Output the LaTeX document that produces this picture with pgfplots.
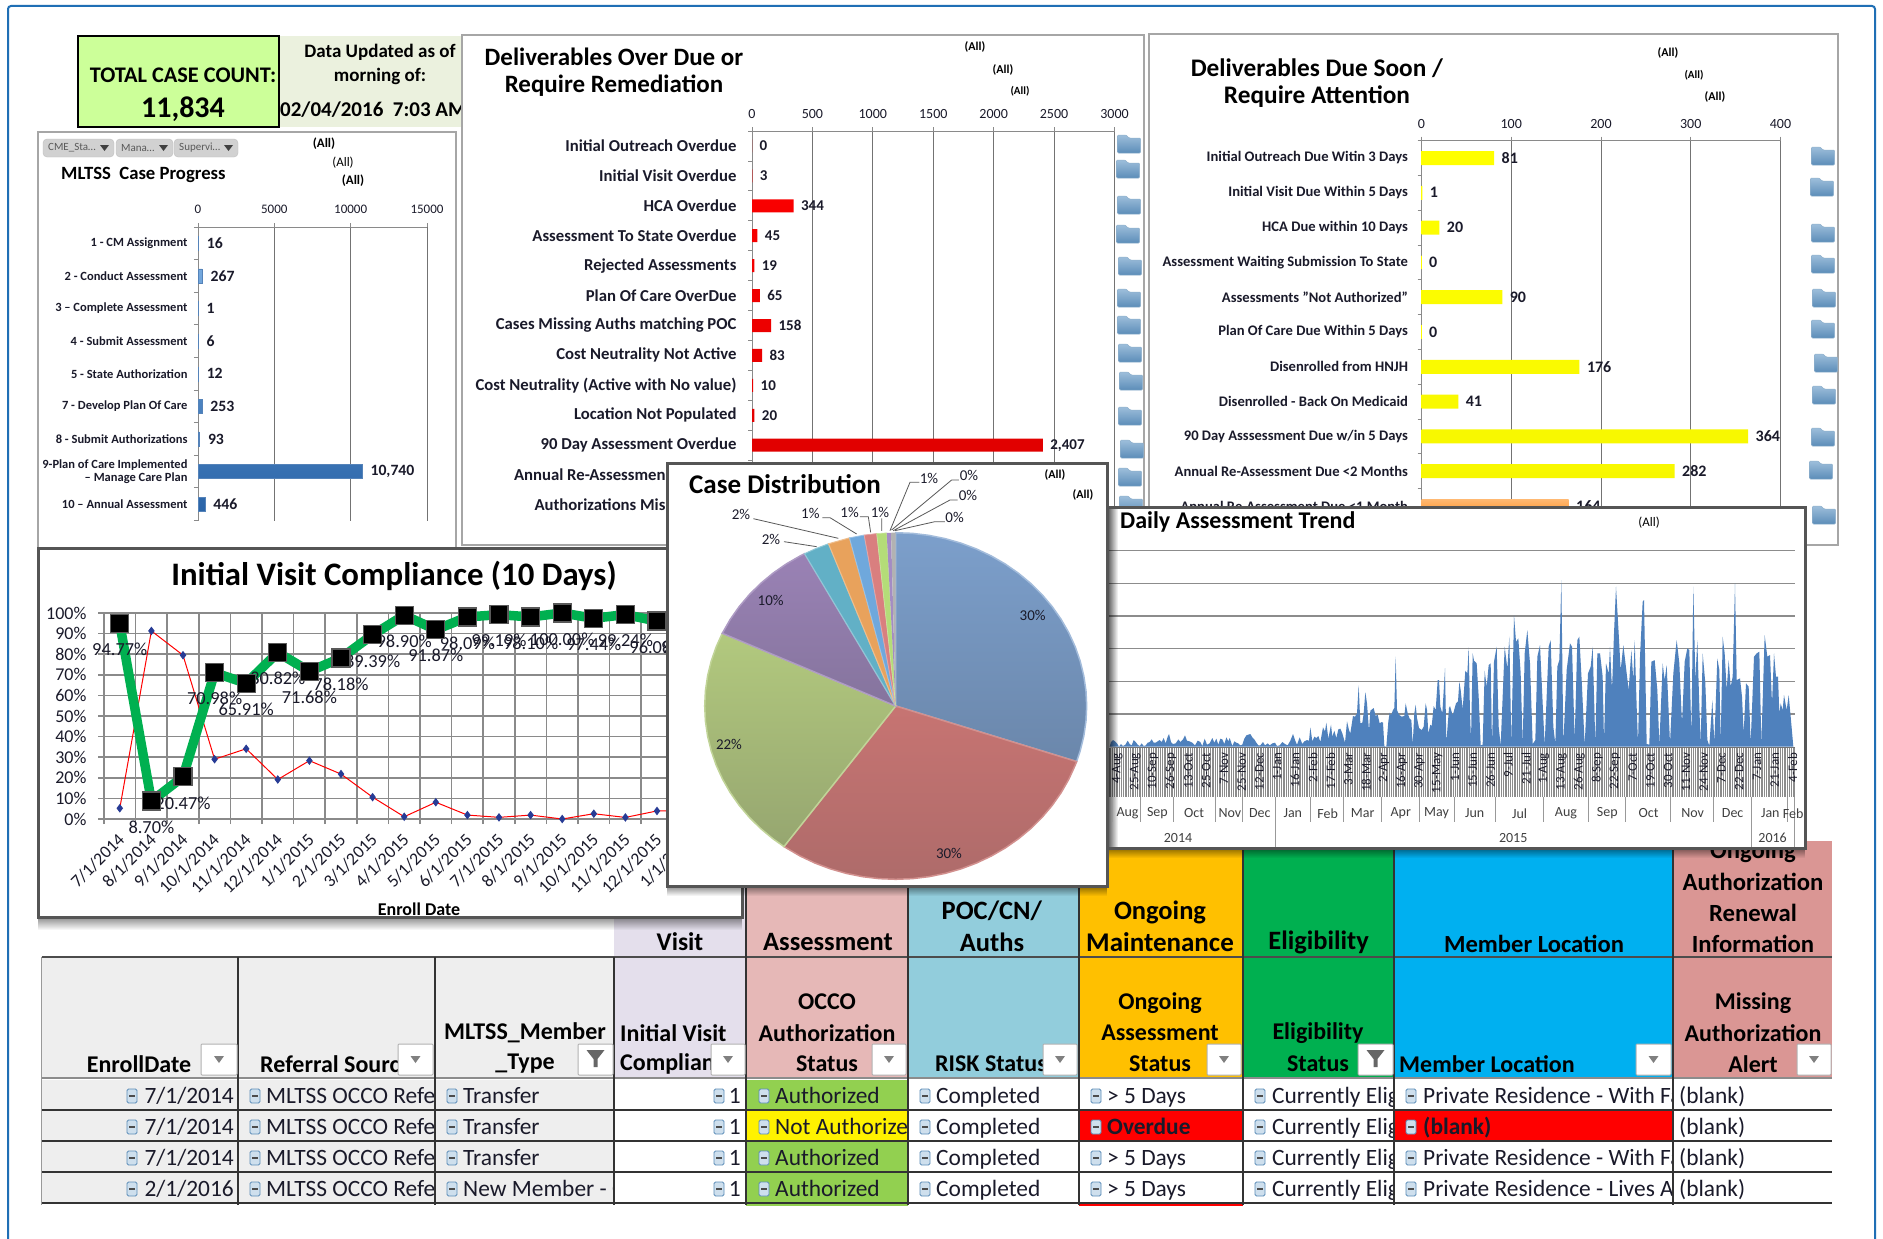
\documentclass[border=0pt]{standalone}
\usepackage{fontspec}
\setmainfont{Carlito}
\usepackage{pgfplots}
\usepackage{pgfplotstable}
\usetikzlibrary{fadings}
\pgfplotsset{compat=1.18}
\definecolor{frameblue}{HTML}{1F6FB5}
\definecolor{panel}{HTML}{A6A6A6}
\definecolor{darkp}{HTML}{555555}
\definecolor{ink}{HTML}{1A1A2A}
\definecolor{gridc}{HTML}{8A8A8A}
\definecolor{gcol}{HTML}{00B050}
\definecolor{cpurp}{HTML}{E4DFEC}
\definecolor{cpink}{HTML}{E6B8B7}
\definecolor{cteal}{HTML}{92CDDC}
\definecolor{corng}{HTML}{FFC000}
\definecolor{cblue}{HTML}{00B0F0}
\definecolor{cpk2}{HTML}{DA9694}
\definecolor{cgray}{HTML}{EEEEEE}
\definecolor{cgrn}{HTML}{92D050}
\definecolor{areac}{HTML}{4F81BD}
\definecolor{HTMLa}{HTML}{9DBEDB}
\definecolor{HTMLb}{HTML}{5C8DB8}
\definecolor{HTMLc}{HTML}{8FB0CC}
\definecolor{barA}{HTML}{7FB2E5}
\definecolor{barB}{HTML}{2A64A8}
\newcommand\fs[1]{\fontsize{#1}{#1}\selectfont}
\newcommand\T[5][]{\node[inner sep=0pt,#1] at (#2,#3) {\fs{#4}#5};}
\newcommand\folder[2]{\begin{scope}[shift={(#1,#2)}]
 \path[top color=HTMLa,bottom color=HTMLb,draw=HTMLc,line width=.5pt,rounded corners=1pt] (-11.5,9)--(-11.5,-9)--(-3,-9)--(0,-6)--(11.5,-6)--(11.5,9)--cycle;
 \end{scope}}
\newcommand\mn[2]{\begin{scope}[shift={(#1,#2)}]
 \draw[fill=HTMLa!50!white,draw=HTMLb,line width=.8pt,rounded corners=1.5pt] (-5,-7) rectangle (5,7);
 \draw[line width=1.2pt,black!70] (-3,0)--(3,0);\end{scope}}
\newcommand\tcell[4]{\begin{scope}\clip (#1,#3-15) rectangle (#2,#3+15);
 \node[anchor=base west,inner sep=0pt] at (#1,#3+7.5) {\fs{23.4}\color{ink}#4};\end{scope}}
\newcommand\trow[9]{%
 \fill[cgray] (41.5,#1-16) rectangle (614,#1+14);
 \fill[#4] (746,#1-16) rectangle (908,#1+14);
 \fill[#6] (1079,#1-16) rectangle (1243,#1+14);
 \fill[#8] (1394,#1-16) rectangle (1673,#1+14);
 \mn{132}{#1}\node[anchor=base east,inner sep=0pt] at (234,#1+7.5) {\fs{23.4}\color{ink}#2};
 \mn{255}{#1}\tcell{266}{435}{#1}{MLTSS OCCO Referral}
 \mn{452}{#1}\tcell{463}{613}{#1}{#3}
 \mn{719}{#1}\node[anchor=base east,inner sep=0pt] at (741,#1+7.5) {\fs{23.4}\color{ink}1};
 \mn{764}{#1}\tcell{775}{908}{#1}{#5}
 \mn{925}{#1}\tcell{936}{1078}{#1}{Completed}
 \mn{1096}{#1}\tcell{1107}{1243}{#1}{#7}
 \mn{1260}{#1}\tcell{1272}{1393}{#1}{Currently Eligible}
 \mn{1411}{#1}\tcell{1423}{1672}{#1}{#9}
 \tcell{1679}{1832}{#1}{(blank)}}
\newcommand\drop[2]{\draw[fill=white,draw=black!30,line width=1pt,rounded corners=1pt] (#1,1044) rectangle (#2,1075);
 \fill[black!50] ({(#1+#2)/2-5},1056)--({(#1+#2)/2+5},1056)--({(#1+#2)/2},1063)--cycle;}
\newcommand\dropf[2]{\draw[fill=white,draw=black!30,line width=1pt,rounded corners=1pt] (#1,1044) rectangle (#2,1075);
 \fill[black!60] ({(#1+#2)/2-9},1050)--({(#1+#2)/2+9},1050)--({(#1+#2)/2+2},1059)--({(#1+#2)/2+2},1067)--({(#1+#2)/2-2},1067)--({(#1+#2)/2-2},1059)--cycle;}
\newcommand\btn[3]{\draw[fill=black!18,draw=black!25,rounded corners=4pt] (#1,139) rectangle (#2,157);
 \node[inner sep=0pt,anchor=west] at (#1+5,148) {\fs{11}\color{black!65}#3};
 \fill[black!75] (#2-14,145)--(#2-5,145)--(#2-9.5,151)--cycle;}
\pgfplotsset{
 barpanel/.style={scale only axis,anchor=north west,
  /pgf/number format/.cd,1000 sep={,},assume math mode=true,/pgfplots/.cd,
  scaled x ticks=false,
  xbar,axis x line*=top,axis y line*=left,axis line style={-,draw=gridc,line width=1pt},
  xticklabel pos=upper,xmajorgrids,major grid style={draw=black!55,line width=1pt},
  tick style={draw=gridc,line width=.8pt},major tick length=4pt,minor tick length=4pt,tick align=outside,
  major y tick style={draw=none},
  yticklabel style={align=right,text=ink},
  xticklabel style={text=ink},
  clip=false,
  nodes near coords,
  every node near coord/.append style={anchor=west,text=ink},
 }}
\pgfplotstableread{
idx good late
0 94.77 5.23
1 8.70 91.30
2 20.47 79.53
3 70.98 29.02
4 65.91 34.09
5 80.82 19.18
6 71.68 28.32
7 78.18 21.82
8 89.39 10.61
9 98.90 1.10
10 91.87 8.13
11 98.09 1.91
12 99.19 0.81
13 98.10 1.90
14 100.00 0.00
15 97.44 2.56
16 99.24 0.76
17 96.08 3.92
18 96.00 4.00
}\compl
\pgfplotstableread{
x h
8 0
12 14
18 20
24 16
30 10
36 0
42 8
48 2
55 6
62 18
68 8
74 4
80 20
86 14
92 6
98 2
104 10
110 2
116 4
122 12
128 14
134 22
140 12
146 12
152 16
158 20
164 14
170 26
176 10
182 30
186 38
192 14
198 8
206 10
214 22
220 14
228 22
234 34
240 18
248 16
256 12
264 4
272 18
280 14
286 2
293 24
300 6
308 10
316 26
322 12
328 24
334 6
340 24
346 22
352 8
358 28
364 16
368 26
376 2
382 16
388 12
394 10
400 4
406 6
412 24
418 34
424 36
430 38
436 28
442 22
448 12
454 4
460 4
468 14
474 4
482 10
488 4
496 10
504 12
510 2
518 4
526 14
534 8
542 4
550 18
558 38
564 20
570 6
578 28
586 8
592 16
600 20
606 18
610 58
616 16
622 30
628 26
634 32
640 14
648 58
654 46
658 72
664 24
672 66
676 30
682 48
688 26
694 52
700 54
706 40
714 12
720 76
726 50
730 40
738 92
744 90
750 100
755 184
760 70
766 72
770 100
775 164
780 130
786 48
790 108
795 112
800 116
806 92
812 96
818 70
824 74
828 72
832 2
838 0
844 76
848 102
852 94
858 110
862 116
866 270
870 110
876 96
884 90
892 92
896 130
902 100
908 84
913 80
917 6
922 100
926 126
930 86
936 56
944 50
950 60
956 130
960 110
964 40
970 66
974 62
980 122
986 110
992 200
996 200
1000 120
1006 100
1014 236
1018 12
1026 116
1029 122
1037 94
1047 130
1053 136
1057 195
1061 170
1067 112
1075 228
1081 220
1085 298
1089 100
1092 20
1097 280
1101 258
1109 250
1115 150
1121 4
1127 6
1133 228
1139 180
1145 245
1151 250
1155 4
1161 255
1169 300
1175 60
1181 4
1189 200
1193 300
1201 235
1207 330
1213 8
1221 395
1227 315
1234 325
1241 220
1247 6
1253 280
1261 350
1269 250
1277 8
1285 20
1291 270
1299 305
1307 130
1313 4
1325 300
1331 320
1339 60
1345 8
1351 240
1357 260
1363 500
1369 10
1379 230
1389 310
1395 300
1403 20
1411 320
1417 330
1425 180
1433 4
1443 220
1451 240
1457 300
1465 8
1471 280
1479 280
1487 210
1491 14
1497 250
1505 220
1509 300
1515 170
1521 340
1527 480
1535 340
1541 230
1549 305
1559 220
1565 170
1573 290
1579 200
1583 320
1589 120
1593 8
1599 270
1607 435
1611 440
1619 8
1627 6
1633 255
1643 260
1651 170
1657 6
1667 250
1673 200
1679 245
1689 10
1699 220
1709 320
1717 250
1725 70
1733 255
1741 295
1747 290
1753 30
1759 480
1765 200
1771 320
1777 120
1781 8
1787 280
1795 190
1801 20
1807 2
1816 140
1822 12
1831 265
1837 230
1841 8
1847 330
1853 280
1859 170
1865 260
1871 180
1877 210
1884 490
1889 200
1899 205
1905 150
1910 40
1917 190
1925 180
1931 10
1941 270
1949 280
1957 285
1963 8
1973 335
1981 270
1989 275
1995 130
2001 280
2007 210
2013 210
2017 100
2021 130
2027 110
2031 155
2039 110
2045 155
2051 90
2059 0
}\trend
\begin{document}
\begin{tikzpicture}
\begin{scope}[x=1pt,y=-1pt]
\useasboundingbox (0,0) rectangle (1883,1239);
\fill[white] (0,0) rectangle (1883,1239);
\draw[frameblue,line width=2pt,rounded corners=3pt] (8,1239)--(8,6)--(1875,6)--(1875,1239);
%%% TABLE
\fill[cpurp] (614,848) rectangle (746,1078);
\fill[cpink] (746,848) rectangle (908,1078);
\fill[cteal] (908,848) rectangle (1079,1078);
\fill[corng] (1079,848) rectangle (1243,1078);
\fill[gcol] (1243,848) rectangle (1394,1078);
\fill[cblue] (1394,848) rectangle (1673,1078);
\fill[cpk2] (1673,841) rectangle (1832,1078);
\fill[cgray] (41.5,957) rectangle (614,1078);
\trow{1096}{7/1/2014}{Transfer}{cgrn}{Authorized}{white}{> 5 Days}{white}{Private Residence - With Family}
\trow{1127}{7/1/2014}{Transfer}{yellow}{Not Authorized}{red}{\textbf{Overdue}}{red}{\textbf{(blank)}}
\trow{1158}{7/1/2014}{Transfer}{cgrn}{Authorized}{white}{> 5 Days}{white}{Private Residence - With Family}
\trow{1189}{2/1/2016}{New Member - Other}{cgrn}{Authorized}{white}{> 5 Days}{white}{Private Residence - Lives Alone}
\fill[cgrn] (746,1204) rectangle (908,1206);\fill[red] (1079,1204) rectangle (1243,1206);
\draw[black!70,line width=2pt] (41.5,957)--(1832,957);
\draw[black!45,line width=2pt] (41.5,1078)--(1832,1078);
\foreach \yy in {1110,1141,1172,1203} \draw[black!80,line width=2pt] (41.5,\yy)--(1832,\yy);
\foreach \xx in {238,435,614} \draw[black!80,line width=1.5pt] (\xx,957)--(\xx,1205);
\foreach \xx in {746,908,1079,1243,1394,1673} \draw[black!80,line width=1.5pt] (\xx,848)--(\xx,1205);
\draw[black!40,line width=1pt] (41.5,957)--(41.5,1205);
% group headings
\T{680}{942}{25.5}{\textbf{Visit}}
\T{828}{942}{26.5}{\textbf{Assessment}}
\T{992}{911}{26.5}{\textbf{POC/CN/}}
\T{992}{942}{26.5}{\textbf{Auths}}
\T{1160}{912}{26.5}{\textbf{Ongoing}}
\T{1160}{942}{27}{\textbf{Maintenance}}
\T{1318.6}{942}{26.5}{\textbf{Eligibility}}
\T{1534}{944}{24.6}{\textbf{Member Location}}
\T{1753}{852}{24.7}{\textbf{Ongoing}}
\T{1753}{882}{24.7}{\textbf{Authorization}}
\T{1753}{913}{24.7}{\textbf{Renewal}}
\T{1753}{944}{24.7}{\textbf{Information}}
% column headings
\T{139}{1064}{24}{\textbf{EnrollDate}}
\begin{scope}\clip (255,1050) rectangle (399,1080);\T[anchor=west]{260}{1064}{24}{\textbf{Referral Source}}\end{scope}
\T{525}{1033}{24}{\textbf{MLTSS\_Member}}
\T{525}{1064}{24}{\textbf{\_Type}}
\T[anchor=west]{620}{1033}{24}{\textbf{Initial Visit}}
\begin{scope}\clip (615,1050) rectangle (711,1080);\T[anchor=west]{620}{1064}{24}{\textbf{Compliance}}\end{scope}
\T{827}{1002}{24}{\textbf{OCCO}}
\T{827}{1033}{24}{\textbf{Authorization}}
\T{827}{1064}{24}{\textbf{Status}}
\begin{scope}\clip (925,1050) rectangle (1043,1080);\T[anchor=west]{935}{1064}{24}{\textbf{RISK Status}}\end{scope}
\T{1160}{1003}{24}{\textbf{Ongoing}}
\T{1160}{1033}{24}{\textbf{Assessment}}
\T{1160}{1064}{24}{\textbf{Status}}
\T{1318}{1033}{24}{\textbf{Eligibility}}
\T{1318}{1064}{24}{\textbf{Status}}
\T[anchor=west]{1399}{1064}{24}{\textbf{Member Location}}
\T{1753}{1003}{24}{\textbf{Missing}}
\T{1753}{1033}{24}{\textbf{Authorization}}
\T{1753}{1064}{24}{\textbf{Alert}}
\drop{201}{237}\drop{398}{433}\dropf{578}{613}\drop{711}{745}\drop{872}{906}\drop{1043}{1077}\drop{1207}{1241}\dropf{1358}{1393}\drop{1636}{1671}\drop{1797}{1831}
%%% TOP BOXES
\definecolor{dbox}{HTML}{EBF1DE}\definecolor{tbox}{HTML}{CCFF99}
\fill[dbox] (279,36) rectangle (462,127);
\draw[black,line width=2pt,fill=tbox] (78,36) rectangle (279,127);
\T{183}{75}{22.3}{\textbf{TOTAL CASE COUNT:}}
\T{183}{109}{30}{\textbf{11,834}}
\T{380}{52}{19}{\textbf{Data Updated as of}}
\T{380}{76}{19}{\textbf{morning of:}}
\begin{scope}\clip (279,90) rectangle (462,127);\T[anchor=west]{280}{110}{21}{\textbf{02/04/2016\ \ 7:03 AM}}\end{scope}
%%% PANEL FRAMES
\draw[panel,line width=1.5pt,fill=white] (38,132) rectangle (456,548);
\draw[panel,line width=1.5pt,fill=white] (462,35) rectangle (1144,545);
\draw[panel,line width=1.5pt,fill=white] (1149,34) rectangle (1838,545);
% MLTSS furniture
\btn{43}{114}{CME\_Sta\ldots}
\btn{116}{173}{Mana\ldots}
\btn{174}{238}{Supervi\ldots}
\T{324}{144}{13}{\textbf{(All)}}
\T{343}{163}{13}{(All)}
\T{353}{181}{13}{\textbf{(All)}}
\T[anchor=west]{61}{175}{18.7}{\textbf{MLTSS\ \ Case Progress}}
% Deliverables 1
\T{614}{57}{25}{\textbf{Deliverables Over Due or}}
\T{614}{86}{25}{\textbf{Require Remediation}}
\T{975}{47}{12}{\textbf{(All)}}
\T{1003}{70}{12}{\textbf{(All)}}
\T{1020}{91}{11}{\textbf{(All)}}
\foreach \x/\y in {1129/144,1128/169,1129/205,1128/234,1130/266,1129/298,1129/325,1130/353,1131/381,1130/416,1132/449,1130/477,1131/505} {\folder{\x}{\y}}
% Deliverables 2
\T{1317}{68}{25.3}{\textbf{Deliverables Due Soon /}}
\T{1317}{97}{25.3}{\textbf{Require Attention}}
\T{1668}{53}{12}{\textbf{(All)}}
\T{1694}{75}{11}{\textbf{(All)}}
\T{1715}{97}{12}{\textbf{(All)}}
\foreach \x/\y in {1823/156,1822/187,1823/233,1823/264,1824/298,1823/329,1826/363,1824/395,1823/437,1821/470,1824/515} {\folder{\x}{\y}}
\end{scope}
%%% MLTSS chart
\begin{axis}[barpanel,at={(198pt,-227pt)},width=229pt,height=293.5pt,
 xmin=0,xmax=15000,ymin=-0.5,ymax=8.5,
 xtick={0,5000,10000,15000},xticklabels={0,5000,10000,15000},
 ytick={0,...,8},minor ytick={-0.5,0.5,...,8.5},
 yticklabels={{10 – Annual Assessment},{9-Plan of Care Implemented\\– Manage Care Plan},{8 - Submit Authorizations},{7 - Develop Plan Of Care},{5 - State Authorization},{4 - Submit Assessment},{3 – Complete Assessment},{2 - Conduct Assessment},{1 - CM Assignment}},
 yticklabel style={xshift=-3pt},
 tick label style={font=\fs{12.5}\bfseries},
 xticklabel style={font=\fs{13},yshift=6pt},
 every node near coord/.append style={font=\fs{15.7}\bfseries,xshift=5pt},
 bar width=14pt,
]
\addplot[xbar,bar shift=0pt,top color=barA,bottom color=barB,draw=barB!80!white,line width=.5pt] coordinates {(446,0) (10740,1) (93,2) (253,3) (12,4) (6,5) (1,6) (267,7) (16,8)};
\end{axis}
%%% Deliverables 1 chart
\begin{axis}[barpanel,at={(752pt,-131pt)},width=362.5pt,height=389pt,
 xmin=0,xmax=3000,ymin=-0.5,ymax=12.5,
 xtick={0,500,...,3000},xticklabels={0,500,1000,1500,2000,2500,3000},
 ytick={0,...,12},minor ytick={-0.5,0.5,...,12.5},
 yticklabels={{Authorizations Mis\hspace{71pt}},{Annual Re-Assessmen\hspace{71pt}},{90 Day Assessment Overdue},{Location Not Populated},{Cost Neutrality (Active with No value)},{Cost Neutrality Not Active},{Cases Missing Auths matching POC},{Plan Of Care OverDue},{Rejected Assessments},{Assessment To State Overdue},{HCA Overdue},{Initial Visit Overdue},{Initial Outreach Overdue}},
 yticklabel style={xshift=-8pt},
 tick label style={font=\fs{16.7}\bfseries},
 xticklabel style={font=\fs{14},yshift=5pt},
 every node near coord/.append style={font=\fs{15}\bfseries,xshift=4pt},
 bar width=13pt,
]
\addplot[xbar,bar shift=0pt,top color=red,bottom color=red!88!black,draw=none] coordinates {(2407,2) (20,3) (10,4) (83,5) (158,6) (65,7) (19,8) (45,9) (344,10) (3,11) (0,12)};
\end{axis}
%%% Deliverables 2 chart
\begin{axis}[barpanel,at={(1421.5pt,-140.6pt)},width=359pt,height=382.8pt,
 xmin=0,xmax=400,ymin=-0.5,ymax=10.5,
 xtick={0,100,...,400},xticklabels={0,100,200,300,400},
 ytick={0,...,10},minor ytick={-0.5,0.5,...,10.5},
 yticklabels={{Annual Re-Assessment Due <1 Month},{Annual Re-Assessment Due <2 Months},{90 Day Asssessment Due w/in 5 Days},{Disenrolled - Back On Medicaid},{Disenrolled from HNJH},{Plan Of Care Due Within 5 Days},{Assessments "Not Authorized"},{Assessment Waiting Submission To State},{HCA Due within 10 Days},{Initial Visit Due Within 5 Days},{Initial Outreach Due Witin 3 Days}},
 yticklabel style={xshift=-6pt},
 tick label style={font=\fs{14.6}\bfseries},
 xticklabel style={font=\fs{14},yshift=4pt},
 every node near coord/.append style={font=\fs{16}\bfseries,xshift=4pt},
 bar width=14pt,
]
\addplot[xbar,bar shift=0pt,top color=yellow,bottom color=yellow!97!black,draw=none] coordinates {(282,1) (364,2) (41,3) (176,4) (0,5) (90,6) (0,7) (20,8) (1,9) (81,10)};
\addplot[xbar,bar shift=0pt,top color=orange!55!white,bottom color=orange!80!white,draw=none] coordinates {(164,0)};
\end{axis}
%%% Compliance panel
\begin{scope}[x=1pt,y=-1pt]
\fill[black,path fading=south,opacity=.45] (38,917) rectangle (742,930);
\draw[darkp,line width=3pt,fill=white] (38,548) rectangle (742,917);
\T{394}{576}{32.8}{\textbf{Initial Visit Compliance (10 Days)}}
\T{419}{909}{18}{\textbf{Enroll Date}}
\end{scope}
\begin{axis}[scale only axis,anchor=north west,at={(104pt,-613pt)},width=632pt,height=206pt,
 /pgf/number format/assume math mode=true,
 xmin=-0.5,xmax=19.5,ymin=0,ymax=100,clip=false,
 axis x line*=bottom,axis y line*=left,axis line style={-,draw=gridc,line width=1.5pt},
 ytick={0,10,...,100},yticklabel={\pgfmathprintnumber{\tick}\%},
 xtick={0,...,19},minor xtick={-0.5,0.5,...,19.5},
 xticklabels={7/1/2014,8/1/2014,9/1/2014,10/1/2014,11/1/2014,12/1/2014,1/1/2015,2/1/2015,3/1/2015,4/1/2015,5/1/2015,6/1/2015,7/1/2015,8/1/2015,9/1/2015,10/1/2015,11/1/2015,12/1/2015,1/1/2016,2/1/2016},
 xticklabel style={xshift=-3pt,yshift=-5.5pt,rotate=45,anchor=north east,font=\fs{17.7},text=ink,inner sep=1pt},
 yticklabel style={font=\fs{18},text=ink,xshift=-8pt},
 ymajorgrids,xminorgrids,grid style={draw=gridc,line width=1.5pt},
 major x tick style={draw=none},minor x tick style={draw=gridc,line width=1.5pt},
 y tick style={draw=gridc,line width=1.5pt},
 major tick length=6pt,minor tick length=5pt,tick align=outside,
 major x tick style={draw=none},
]
\addplot[red,line width=1pt,mark=diamond*,mark size=3.5pt,mark options={fill=blue!40!HTMLb!70!black,draw=blue!40!HTMLb!70!black}] table[x=idx,y=late] {\compl};
\addplot[gcol,line width=9.5pt,
 nodes near coords={\pgfmathprintnumber[fixed,fixed zerofill,precision=2]{\pgfplotspointmeta}\%},
 every node near coord/.append style={anchor=center,yshift=-26pt,font=\fs{18.4},text=ink}]
 table[x=idx,y=good] {\compl};
\addplot[only marks,mark=square*,mark size=9pt,mark options={fill=black,draw=black!65,line width=1.2pt}] table[x=idx,y=good] {\compl};
\end{axis}
%%% Trend panel
\begin{scope}[x=1pt,y=-1pt]
\fill[black,path fading=south,opacity=.45] (1107,848) rectangle (1805,858);
\draw[darkp,line width=3pt,fill=white] (1107,507) rectangle (1805,848);
\T[anchor=west]{1120}{522}{24}{\textbf{Daily Assessment Trend}}
\T{1649}{523}{13}{(All)}
\end{scope}
\begin{axis}[scale only axis,anchor=north west,at={(1109pt,-550.7pt)},width=686pt,height=196pt,
 xmin=6,xmax=2064,ymin=0,ymax=588,
 axis line style={draw=none},xtick pos=lower,ytick pos=left,
 ytick={98,196,294,392,490,588},yticklabels={},
 ymajorgrids,grid style={draw=black!45,line width=1.2pt},
 xtick={31.2,84.5,...,2064},minor xtick={6,11.33,...,2064},
 major tick length=0pt,minor tick length=50pt,tick align=outside,
 minor x tick style={draw=black!45,line width=1pt},
 xticklabels={4-Aug,25-Aug,10-Sep,26-Sep,13-Oct,25-Oct,7-Nov,25-Nov,12-Dec,1-Jan,16-Jan,2-Feb,17-Feb,3-Mar,18-Mar,2-Apr,16-Apr,30-Apr,15-May,1-Jun,15-Jun,26-Jun,9-Jul,21-Jul,1-Aug,13-Aug,26-Aug,8-Sep,22-Sep,7-Oct,19-Oct,30-Oct,11-Nov,24-Nov,7-Dec,22-Dec,7-Jan,21-Jan,4-Feb},
 xticklabel style={yshift=-6pt,rotate=90,anchor=east,font=\fs{13},text=ink,inner sep=0pt},
]
\addplot[fill=areac,draw=none] table[x=x,y=h] {\trend} \closedcycle;
\end{axis}
\begin{scope}[x=1pt,y=-1pt]
\fill[black,path fading=east,opacity=.6] (1108.5,509) rectangle (1118,847);
\draw[black!55,line width=1pt] (1109,747)--(1795,747);
\begin{scope}[shift={(1100,500)},x=0.4591pt,y=-0.3333pt]
\foreach \xx in {27,88,159,252,310,381,459,530,612,695,772,861,965,1064,1145,1243,1336,1418,1497,1513}{\draw[black!40,line width=.8pt] (\xx,890)--(\xx,965);}
\foreach \xx in {381,1418,1513}{\draw[black!40,line width=.8pt] (\xx,965)--(\xx,1040);}
\foreach \xx/\lab in {60/Aug,125/Sep,205/Oct,283/Nov,348/Dec,420/Jan,496/Feb,572/Mar,655/Apr,733/May,816/Jun,914/Jul,1015/Aug,1105/Sep,1195/Oct,1291/Nov,1378/Dec,1460/Jan,1510/Feb}{\node[inner sep=0pt] at (\xx,940) {\fs{14}\color{black!75}\lab};}
\foreach \xx/\lab in {170/2014,900/2015,1465/2016}{\node[inner sep=0pt] at (\xx,1015) {\fs{14}\color{black!75}\lab};}
\end{scope}
%%% Pie panel
\fill[black,path fading=south,opacity=.45] (667,886) rectangle (1107,896);
\draw[darkp,line width=3pt,fill=white] (667,463) rectangle (1107,886);
\T[anchor=west]{689}{484}{27}{\textbf{Case Distribution}}
\T{1055}{475}{12}{\textbf{(All)}}
\T{1083}{495}{12}{\textbf{(All)}}
\end{scope}
\begin{axis}[scale only axis,anchor=north west,at={(704.7pt,-532.7pt)},width=382pt,height=346.6pt,hide axis,clip=false,xmin=-1,xmax=1,ymin=-1,ymax=1]
\definecolor{s1a}{HTML}{7C9FCB}\definecolor{s1b}{HTML}{6B87AB}
\definecolor{s2a}{HTML}{C77472}\definecolor{s2b}{HTML}{AE6B6A}
\definecolor{s3a}{HTML}{B2C97E}\definecolor{s3b}{HTML}{96A670}
\definecolor{s4a}{HTML}{9A82B5}\definecolor{s4b}{HTML}{85749D}
\definecolor{s5}{HTML}{62B0C6}\definecolor{s6}{HTML}{E8A25C}\definecolor{s7}{HTML}{6FA8DC}\definecolor{s8}{HTML}{D97F7F}\definecolor{s9}{HTML}{B4DC78}\definecolor{s10}{HTML}{A48CC4}
\addplot[top color=s1a,bottom color=s1b,draw=s1a!70!white,line width=1.5pt] coordinates {(0,0) (0,1) (.0872,.9962) (.1736,.9848) (.2588,.9659) (.342,.9397) (.4226,.9063) (.5,.866) (.5736,.8192) (.6428,.766) (.7071,.7071) (.766,.6428) (.8192,.5736) (.866,.5) (.9063,.4226) (.9397,.342) (.9659,.2588) (.9848,.1736) (.9962,.0872) (1,0) (.9962,-.0872) (.9848,-.1736) (.9659,-.2588) (.9472,-.3206)} --cycle;
\addplot[top color=s2a,bottom color=s2b,draw=s2a!80!white,line width=1.5pt] coordinates {(0,0) (.9472,-.3206) (.9397,-.342) (.9063,-.4226) (.866,-.5) (.8192,-.5736) (.766,-.6428) (.7071,-.7071) (.6428,-.766) (.5736,-.8192) (.5,-.866) (.4226,-.9063) (.342,-.9397) (.2588,-.9659) (.1736,-.9848) (.0872,-.9962) (0,-1) (-.0872,-.9962) (-.1736,-.9848) (-.2588,-.9659) (-.342,-.9397) (-.4226,-.9063) (-.5,-.866) (-.585,-.8111)} --cycle;
\addplot[top color=s3a,bottom color=s3b,draw=s3a!80!white,line width=1.5pt] coordinates {(0,0) (-.585,-.8111) (-.6428,-.766) (-.7071,-.7071) (-.766,-.6428) (-.8192,-.5736) (-.866,-.5) (-.9063,-.4226) (-.9397,-.342) (-.9659,-.2588) (-.9848,-.1736) (-.9962,-.0872) (-1,0) (-.9962,.0872) (-.9848,.1736) (-.9659,.2588) (-.9397,.342) (-.9078,.4195)} --cycle;
\addplot[top color=s4a,bottom color=s4b,draw=s4a!80!white,line width=1.5pt] coordinates {(0,0) (-.9078,.4195) (-.866,.5) (-.8192,.5736) (-.766,.6428) (-.7071,.7071) (-.6428,.766) (-.5736,.8192) (-.5,.866) (-.4772,.8788)} --cycle;
\addplot[fill=s5,draw=s5!70!white,line width=1pt] coordinates {(0,0) (-.4772,.8788) (-.4226,.9063) (-.3518,.9361)} --cycle;
\addplot[fill=s6,draw=s6!70!white,line width=1pt] coordinates {(0,0) (-.3518,.9361) (-.2419,.9703)} --cycle;
\addplot[fill=s7,draw=s7!70!white,line width=.8pt] coordinates {(0,0) (-.2419,.9703) (-.165,.9863)} --cycle;
\addplot[fill=s8,draw=s8!70!white,line width=.8pt] coordinates {(0,0) (-.165,.9863) (-.0993,.9951)} --cycle;
\addplot[fill=s9,draw=s9!70!white,line width=.6pt] coordinates {(0,0) (-.0993,.9951) (-.0471,.9989)} --cycle;
\addplot[fill=s10,draw=none] coordinates {(0,0) (-.0471,.9989) (-.0244,.9997)} --cycle;
\addplot[fill=black!30,draw=none] coordinates {(0,0) (-.0244,.9997) (0,1)} --cycle;
\end{axis}
\begin{scope}[x=1pt,y=-1pt]
\begin{scope}[shift={(660,460)},x=0.3333pt,y=-0.3333pt]
\foreach \a/\b/\lab in {1118/465/30\%,867/1180/30\%,207/852/22\%,332/420/10\%,333/237/2\%,243/163/2\%,451/160/1\%,569/156/1\%,660/158/1\%,807/55/1\%,927/46/0\%,924/107/0\%,884/172/0\%}{\node[inner sep=0pt] at (\a,\b) {\fs{15}\color{ink}\lab};}
\draw[black!65,line width=.8pt] (372,245)--(470,260) (280,176)--(535,235) (487,173)--(510,173)--(590,222) (600,170)--(625,170)--(632,217) (665,175)--(665,213) (778,67)--(750,67)--(690,212) (897,60)--(875,60)--(695,210) (893,120)--(870,120)--(700,212) (855,185)--(825,185)--(705,212);
\end{scope}
\end{scope}
\end{tikzpicture}
\end{document}
